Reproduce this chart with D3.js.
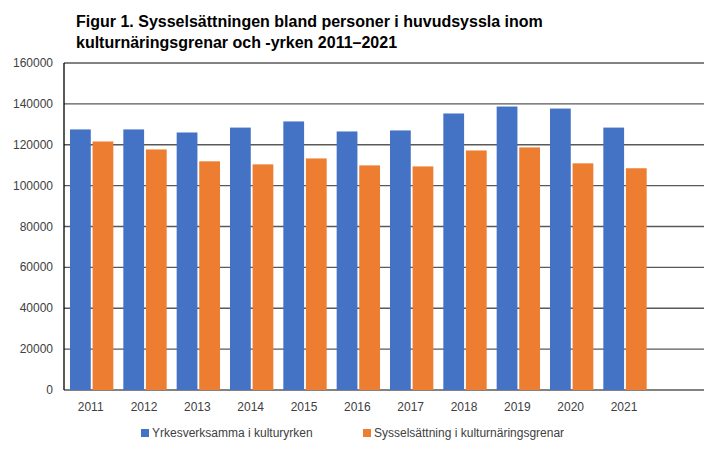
<!DOCTYPE html>
<html><head><meta charset="utf-8">
<script src="https://cdn.jsdelivr.net/npm/d3@7"></script>
<style>body{margin:0;background:#fff;font-family:Arial,"Liberation Sans",sans-serif}</style>
</head><body><div id="chart"></div>
<script>
var years = ["2011","2012","2013","2014","2015","2016","2017","2018","2019","2020","2021"];
var yrkes = [127500,127500,126000,128400,131400,126500,127000,135300,138700,137700,128400];
var syssel = [121600,117700,111900,110400,113300,109900,109400,117200,118700,110900,108500];
var yTicks = [0,20000,40000,60000,80000,100000,120000,140000,160000];
var seriesNames = ["Yrkesverksamma i kulturyrken","Sysselsättning i kulturnäringsgrenar"];
var colors = ["#4472c4","#ed7d31"];

var width = 718, height = 454;
var plotLeft = 64, plotRight = 704, plotTop = 63, plotBottom = 390;

var svg = d3.select("#chart").append("svg").attr("width", width).attr("height", height);

svg.append("text").attr("x", 76).attr("y", 27).attr("font-size", 16).attr("font-weight", "bold")
  .text("Figur 1. Sysselsättningen bland personer i huvudsyssla inom");
svg.append("text").attr("x", 76).attr("y", 48).attr("font-size", 16).attr("font-weight", "bold")
  .text("kulturnäringsgrenar och -yrken 2011–2021");

// one spare empty slot at the right, like the original
var x = d3.scaleBand().domain(years.concat([""])).range([plotLeft, plotRight]).paddingInner(0).paddingOuter(0);
var y = d3.scaleLinear().domain([0, 160000]).range([plotBottom, plotTop]);
var inner = d3.scaleBand().domain([0, 1]).range([6, x.bandwidth() - 4]).paddingInner(0.08);

svg.append("g").selectAll("line").data(yTicks).enter().append("line")
  .attr("x1", plotLeft).attr("x2", plotRight).attr("y1", y).attr("y2", y)
  .attr("stroke", "#595959").attr("stroke-width", 1.3);

svg.append("g").selectAll("text").data(yTicks).enter().append("text")
  .attr("x", 53).attr("y", function(d){ return y(d) + 4; }).attr("text-anchor", "end")
  .attr("font-size", 12).attr("fill", "#404040").text(function(d){ return d; });

[yrkes, syssel].forEach(function(vals, s) {
  svg.append("g").selectAll("rect").data(vals).enter().append("rect")
    .attr("x", function(d, i){ return x(years[i]) + inner(s); })
    .attr("width", inner.bandwidth())
    .attr("y", function(d){ return y(d); })
    .attr("height", function(d){ return plotBottom - y(d); })
    .attr("fill", colors[s]);
});

svg.append("line").attr("x1", plotLeft).attr("x2", plotLeft).attr("y1", plotTop).attr("y2", plotBottom)
  .attr("stroke", "#000").attr("stroke-width", 1.3);

svg.append("g").selectAll("text").data(years).enter().append("text")
  .attr("x", function(d){ return x(d) + x.bandwidth() / 2; }).attr("y", 411)
  .attr("text-anchor", "middle").attr("font-size", 12).attr("fill", "#404040").text(function(d){ return d; });

var lx = [141, 363];
seriesNames.forEach(function(n, s) {
  svg.append("rect").attr("x", lx[s]).attr("y", 429).attr("width", 8).attr("height", 8).attr("fill", colors[s]);
  svg.append("text").attr("x", lx[s] + 11).attr("y", 437).attr("font-size", 12).attr("fill", "#404040").text(n);
});
</script></body></html>
